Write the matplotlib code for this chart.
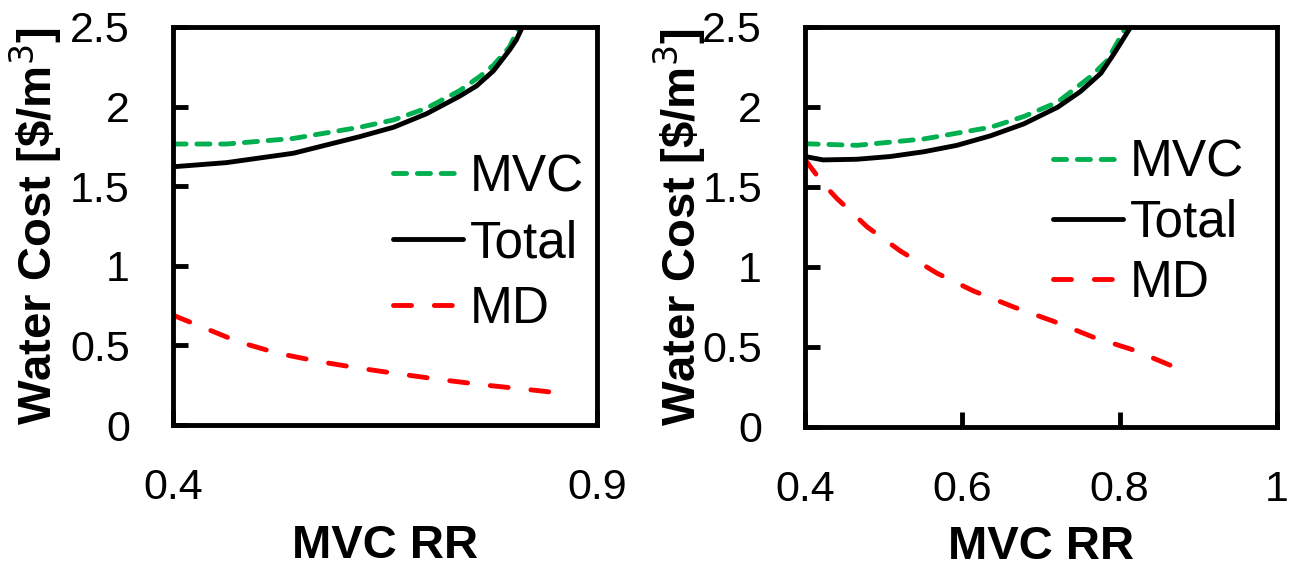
import matplotlib
matplotlib.use("Agg")
import matplotlib.pyplot as plt

plt.rcParams["font.family"] = ["Liberation Sans", "DejaVu Sans"]

GREEN = "#00B050"
RED = "#FF0000"

# left panel
l_total_x = [0.400, 0.463, 0.542, 0.620, 0.660, 0.699, 0.738, 0.758, 0.778, 0.797, 0.805, 0.812]
l_total_y = [1.622, 1.648, 1.707, 1.811, 1.87, 1.955, 2.065, 2.13, 2.225, 2.356, 2.42, 2.50]
l_mvc_x = [0.400, 0.463, 0.542, 0.620, 0.660, 0.699, 0.738, 0.762, 0.778, 0.797, 0.808]
l_mvc_y = [1.765, 1.765, 1.80, 1.87, 1.916, 1.99, 2.10, 2.19, 2.26, 2.376, 2.50]
l_md_x = [0.400, 0.477, 0.524, 0.573, 0.621, 0.668, 0.719, 0.768, 0.817, 0.866]
l_md_y = [0.69, 0.523, 0.450, 0.398, 0.356, 0.320, 0.283, 0.251, 0.224, 0.195]

# right panel
r_total_x = [0.400, 0.423, 0.466, 0.508, 0.551, 0.593, 0.636, 0.678, 0.721, 0.750, 0.776, 0.793, 0.814]
r_total_y = [1.69, 1.669, 1.673, 1.69, 1.72, 1.76, 1.82, 1.894, 1.998, 2.096, 2.21, 2.335, 2.50]
r_mvc_x = [0.400, 0.466, 0.551, 0.636, 0.678, 0.721, 0.763, 0.784, 0.808]
r_mvc_y = [1.77, 1.76, 1.80, 1.873, 1.94, 2.03, 2.19, 2.29, 2.50]
r_md_x = [0.400, 0.423, 0.440, 0.479, 0.521, 0.568, 0.614, 0.665, 0.716, 0.767, 0.818, 0.867]
r_md_y = [1.67, 1.52, 1.43, 1.25, 1.10, 0.96, 0.85, 0.75, 0.66, 0.56, 0.48, 0.38]

TICK_FS = 31
LEG_FS = 37
LAB_FS = 34
LW = 3.5

fig = plt.figure(figsize=(12.91, 5.67), dpi=100)
ax1 = fig.add_axes([0.134, 0.2504, 0.3284, 0.702])
ax2 = fig.add_axes([0.6236, 0.247, 0.3656, 0.7055])


def draw(ax, tx, ty, mx, my, dx, dy, xticks, xlim, leg_anchor, spacing,
         ylab_x, xlab_y):
    ax.plot(mx, my, color=GREEN, lw=LW, dashes=(2.7, 2.2),
            dash_capstyle="round", label="MVC")
    ax.plot(tx, ty, color="black", lw=LW, solid_capstyle="round",
            solid_joinstyle="round", label="Total")
    ax.plot(dx, dy, color=RED, lw=LW, dashes=(3.7, 4.7),
            dash_capstyle="round", label="MD")
    ax.set_xlim(*xlim)
    ax.set_ylim(0, 2.5)
    ax.set_xticks(xticks)
    ax.set_xticklabels([f"{t:g}" for t in xticks])
    ax.set_yticks([0, 0.5, 1, 1.5, 2, 2.5])
    ax.set_yticklabels(["0", "0.5", "1", "1.5", "2", "2.5"])
    ax.tick_params(direction="in", length=11, width=LW, labelsize=TICK_FS,
                   pad=31, top=False, right=False)
    for s in ax.spines.values():
        s.set_linewidth(LW)
    ax.set_xlabel("MVC RR", fontsize=LAB_FS, fontweight="bold", va="center")
    ax.set_ylabel("Water Cost [\\$/m$^3$]", fontsize=LAB_FS, fontweight="bold",
                  va="center")
    ax.yaxis.set_label_coords(ylab_x, 0.5)
    ax.xaxis.set_label_coords(0.5, xlab_y)
    ax.legend(loc="upper left", bbox_to_anchor=leg_anchor, frameon=False,
              fontsize=LEG_FS, handlelength=1.36, handletextpad=0.14,
              borderpad=0, borderaxespad=0, labelspacing=spacing)


draw(ax1, l_total_x, l_total_y, l_mvc_x, l_mvc_y, l_md_x, l_md_y,
     [0.4, 0.9], (0.4, 0.9), (0.519, 0.683), 0.33, -0.325, -0.305)
draw(ax2, r_total_x, r_total_y, r_mvc_x, r_mvc_y, r_md_x, r_md_y,
     [0.4, 0.6, 0.8, 1.0], (0.4, 1.0), (0.525, 0.72), 0.21, -0.265, -0.30)

fig.savefig("out.png", dpi=100)
